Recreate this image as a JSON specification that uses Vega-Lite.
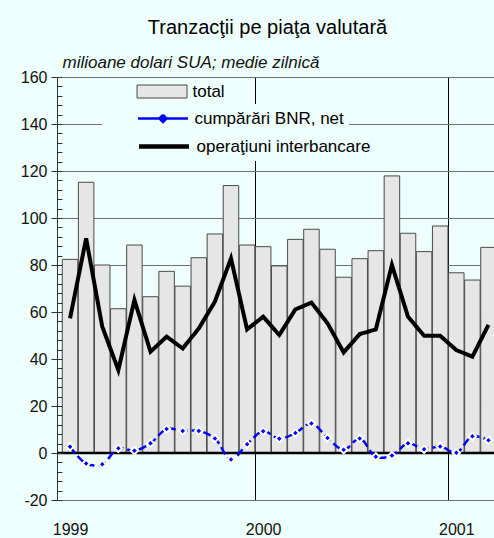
{
  "$schema": "https://vega.github.io/schema/vega-lite/v6.json",
  "width": 437,
  "height": 423,
  "autosize": {"type": "none"},
  "padding": {"left": 57, "top": 77, "right": 0, "bottom": 38},
  "background": "#EFFFFB",
  "title": {"text": "Tranzacţii pe piaţa valutară", "fontSize": 20, "fontWeight": "normal", "font": "Liberation Sans", "color": "#000", "anchor": "middle", "dx": -8, "dy": 23, "baseline": "alphabetic", "offset": 22},
  "config": {"view": {"stroke": null}, "font": "Liberation Sans"},
  "data": {"values": [
    {"i": 0, "month": "1999-01", "total": 82.4, "bnr": 2.7, "inter": 57.3},
    {"i": 1, "month": "1999-02", "total": 115.2, "bnr": -4.5, "inter": 91.3},
    {"i": 2, "month": "1999-03", "total": 80.0, "bnr": -4.8, "inter": 53.8},
    {"i": 3, "month": "1999-04", "total": 61.4, "bnr": 2.0, "inter": 35.3},
    {"i": 4, "month": "1999-05", "total": 88.5, "bnr": 1.0, "inter": 65.1},
    {"i": 5, "month": "1999-06", "total": 66.5, "bnr": 4.1, "inter": 43.1},
    {"i": 6, "month": "1999-07", "total": 77.3, "bnr": 10.2, "inter": 49.5},
    {"i": 7, "month": "1999-08", "total": 71.0, "bnr": 9.4, "inter": 44.5},
    {"i": 8, "month": "1999-09", "total": 83.1, "bnr": 9.4, "inter": 53.0},
    {"i": 9, "month": "1999-10", "total": 93.2, "bnr": 6.2, "inter": 64.4},
    {"i": 10, "month": "1999-11", "total": 113.8, "bnr": -2.8, "inter": 82.8},
    {"i": 11, "month": "1999-12", "total": 88.5, "bnr": 3.7, "inter": 52.6},
    {"i": 12, "month": "2000-01", "total": 87.8, "bnr": 9.3, "inter": 58.0},
    {"i": 13, "month": "2000-02", "total": 79.6, "bnr": 6.1, "inter": 50.2},
    {"i": 14, "month": "2000-03", "total": 90.9, "bnr": 8.5, "inter": 61.1},
    {"i": 15, "month": "2000-04", "total": 95.2, "bnr": 12.6, "inter": 64.0},
    {"i": 16, "month": "2000-05", "total": 86.7, "bnr": 6.4, "inter": 55.2},
    {"i": 17, "month": "2000-06", "total": 74.8, "bnr": 1.4, "inter": 42.8},
    {"i": 18, "month": "2000-07", "total": 82.7, "bnr": 6.2, "inter": 50.6},
    {"i": 19, "month": "2000-08", "total": 86.1, "bnr": -1.6, "inter": 52.6},
    {"i": 20, "month": "2000-09", "total": 117.9, "bnr": -1.1, "inter": 80.0},
    {"i": 21, "month": "2000-10", "total": 93.5, "bnr": 4.1, "inter": 58.0},
    {"i": 22, "month": "2000-11", "total": 85.7, "bnr": 1.6, "inter": 49.9},
    {"i": 23, "month": "2000-12", "total": 96.6, "bnr": 2.8, "inter": 49.9},
    {"i": 24, "month": "2001-01", "total": 76.7, "bnr": 0.1, "inter": 43.8},
    {"i": 25, "month": "2001-02", "total": 73.6, "bnr": 7.1, "inter": 41.0},
    {"i": 26, "month": "2001-03", "total": 87.5, "bnr": 5.4, "inter": 54.5}
  ]},
  "layer": [
    {
      "mark": {"type": "bar", "width": 15.5, "stroke": "#4a4a4a", "strokeWidth": 1, "clip": true},
      "encoding": {
        "x": {"field": "i", "type": "quantitative", "scale": {"domain": [-0.5, 26.033], "nice": false, "zero": false},
          "axis": {"orient": "bottom", "values": [11.5, 23.5], "grid": true, "gridColor": "#000", "gridWidth": 1, "gridOpacity": 1, "labels": false, "ticks": false, "domain": false, "title": null}},
        "y": {"field": "total", "type": "quantitative", "scale": {"domain": [-20, 160], "nice": false},
          "axis": {"orient": "left", "values": [-20, 0, 20, 40, 60, 80, 100, 120, 140, 160], "labelExpr": "'' + datum.value", "grid": true, "gridColor": "#707070", "gridWidth": 1, "gridOpacity": 1, "domain": true, "domainColor": "#333", "domainWidth": 1, "ticks": true, "tickSize": 6, "tickColor": "#333", "labelFontSize": 16, "labelFont": "Liberation Sans", "labelColor": "#111", "labelPadding": 4, "labelFlush": false, "labelOverlap": false,
            "title": "milioane dolari SUA; medie zilnică", "titleAngle": 0, "titleX": 5, "titleY": -10, "titleAlign": "left", "titleBaseline": "alphabetic", "titleFontStyle": "italic", "titleFontWeight": "normal", "titleFontSize": 17, "titleFont": "Liberation Sans", "titleColor": "#111"}},
        "fill": {"datum": "total", "type": "nominal",
          "scale": {"domain": ["total"], "range": ["#E6E6E6"]},
          "legend": {
            "orient": "none", "legendX": 45, "legendY": 1, "title": null,
            "fillColor": "#EFFFFB", "padding": 5,
            "labelFont": "Liberation Sans", "labelFontSize": 17, "labelColor": "#000", "labelLimit": 400,
            "labelOffset": 22, "symbolOffset": 46.5, "symbolSize": 256,
            "symbolType": "M-3.125,-0.8125H3.125V0.8125H-3.125Z",
            "symbolStrokeColor": "#4a4a4a", "symbolStrokeWidth": 1, "symbolOpacity": 1,
            "labelExpr": "pad(datum.label, 42, '\u00a0')"
          }}
      }
    },
    {
      "mark": {"type": "line", "strokeWidth": 4, "stroke": "#000", "clip": true},
      "encoding": {
        "x": {"field": "i", "type": "quantitative",
          "axis": {"orient": "bottom", "values": [0, 12, 24], "labelExpr": "'' + (1999 + datum.value / 12)", "ticks": false, "tickSize": 0, "domain": false, "grid": false, "labelPadding": 21, "labelFontSize": 16, "labelFont": "Liberation Sans", "labelColor": "#111", "labelFlush": false, "title": null}},
        "y": {"field": "inter", "type": "quantitative",
          "axis": {"orient": "left", "values": [-20, -16, -12, -8, -4, 0, 4, 8, 12, 16, 20, 24, 28, 32, 36, 40, 44, 48, 52, 56, 60, 64, 68, 72, 76, 80, 84, 88, 92, 96, 100, 104, 108, 112, 116, 120, 124, 128, 132, 136, 140, 144, 148, 152, 156, 160], "ticks": true, "tickSize": -5, "tickColor": "#333", "labels": false, "domain": false, "grid": false, "title": null, "zindex": 1}},
        "strokeDash": {"datum": "operaţiuni interbancare", "type": "nominal",
          "scale": {"domain": ["operaţiuni interbancare"], "range": [[1, 0]]},
          "legend": {
            "orient": "none", "legendX": 45, "legendY": 54, "title": null,
            "fillColor": "#EFFFFB", "padding": 5,
            "labelFont": "Liberation Sans", "labelFontSize": 17, "labelColor": "#000", "labelLimit": 400,
            "labelOffset": 22, "symbolOffset": 46.5, "symbolSize": 256,
            "symbolType": "M-3.125,0H3.125",
            "symbolStrokeColor": "#000", "symbolStrokeWidth": 4.5, "symbolOpacity": 1,
            "labelExpr": "pad(datum.label, 29, '\u00a0')"
          }}
      }
    },
    {
      "data": {"values": [{}]},
      "mark": {"type": "rule", "color": "#000", "strokeWidth": 2.5},
      "encoding": {"y": {"datum": 0, "type": "quantitative", "axis": null}}
    },
    {
      "mark": {"type": "line", "strokeWidth": 2.5, "strokeDash": [8, 4], "interpolate": "catmull-rom", "clip": true},
      "encoding": {
        "x": {"field": "i", "type": "quantitative", "axis": null},
        "y": {"field": "bnr", "type": "quantitative", "axis": null},
        "stroke": {"datum": "cumpărări BNR, net", "type": "nominal",
          "scale": {"domain": ["cumpărări BNR, net"], "range": ["#0000FF"]},
          "legend": {
            "orient": "none", "legendX": 45, "legendY": 27, "title": null,
            "fillColor": "#EFFFFB", "padding": 5,
            "labelFont": "Liberation Sans", "labelFontSize": 17, "labelColor": "#000", "labelLimit": 400,
            "labelOffset": 22, "symbolOffset": 46.5, "symbolSize": 256,
            "symbolType": "M-3.125,0H3.125M0,-0.45L0.45,0L0,0.45L-0.45,0Z",
            "symbolFillColor": "#0000FF", "symbolStrokeWidth": 2.5, "symbolDash": [21, 8], "symbolOpacity": 1,
            "labelExpr": "pad(datum.label, 30, '\u00a0')"
          }}
      }
    },
    {
      "mark": {"type": "point", "shape": "diamond", "filled": true, "fill": "#0000FF", "stroke": "#FFFFFF", "strokeWidth": 2, "size": 55, "opacity": 1, "clip": true},
      "encoding": {
        "x": {"field": "i", "type": "quantitative", "axis": null},
        "y": {"field": "bnr", "type": "quantitative", "axis": null}
      }
    }
  ],
  "resolve": {"axis": {"x": "independent", "y": "independent"}}
}
